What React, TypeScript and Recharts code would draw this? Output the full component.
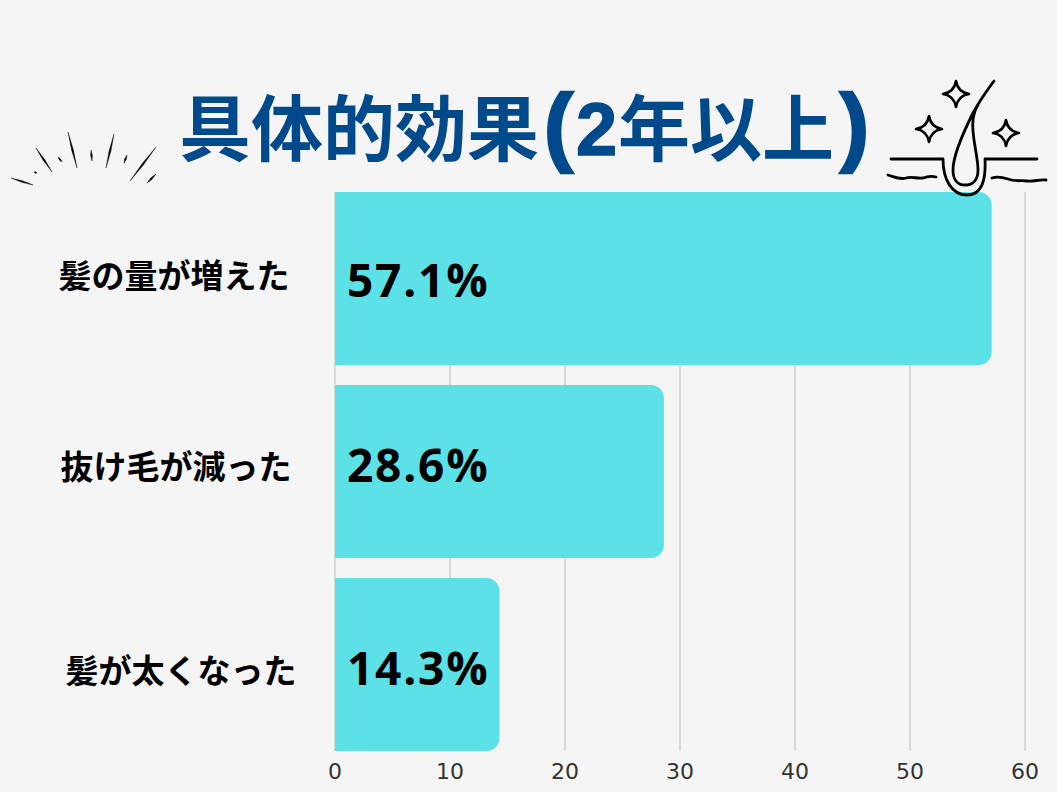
import React from "react";
import { BarChart, Bar, XAxis, YAxis, CartesianGrid, LabelList } from "recharts";

const categories = ["髪の量が増えた", "抜け毛が減った", "髪が太くなった"];
const values = [57.1, 28.6, 14.3];
const xTicks = [0, 10, 20, 30, 40, 50, 60];
const titleKanji = "具体的効果";
const titleYear = "2";
const titleRest = "年以上";
const data = categories.map((name, i) => ({ name, value: values[i] }));

const JP = "'Noto Sans CJK JP', 'Noto Sans', sans-serif";
const tickOffsets = [[-162 + 10, -5], [-160 + 10, -7], [-155 + 10, 4]];
const labelOffsets = [0, -7.5, 2.5];

const CategoryTick = (props: any) => {
  const { x, y, payload, index } = props;
  const [dx, dy] = tickOffsets[index];
  return (
    <text x={x + dx - 1} y={y + dy} dominantBaseline="central" textAnchor="middle"
      style={{ fontFamily: JP, fontSize: 33, fontWeight: 700 }} fill="#000">
      {payload.value}
    </text>
  );
};

const ValueLabel = (props: any) => {
  const { x, y, height, value, index } = props;
  return (
    <text x={x + 12} y={y + height / 2 + labelOffsets[index]} dominantBaseline="central"
      style={{ fontFamily: "'Open Sans', sans-serif", fontSize: 46, fontWeight: 700, letterSpacing: 1.8 }} fill="#000">
      {value.toFixed(1)}%
    </text>
  );
};

const bursts = [
  [11, 178, 33, 185], [36, 148, 52, 172], [34, 172, 37, 173], [58, 157, 62, 162], [68, 132, 77, 168],
  [91, 150, 92, 161], [114, 134, 106, 168], [127, 155, 124, 163], [156, 147, 130, 181], [156, 174, 147, 183],
];
const stars = [[956, 94], [929, 129], [1006, 133]];

const Taper = ({ l }: { l: number[] }) => {
  const [a, b, c, d] = l;
  const mx = (a + c) / 2, my = (b + d) / 2;
  const len = Math.hypot(c - a, d - b) || 1;
  const w = 0.9;
  const nx = (-(d - b) / len) * w, ny = ((c - a) / len) * w;
  return <path d={`M${a},${b} L${mx + nx},${my + ny} L${c},${d} L${mx - nx},${my - ny} Z`} fill="#000" stroke="#000" strokeWidth={0.4} />;
};

const Star = ({ c }: { c: number[] }) => {
  const [x, y] = c;
  const r = 13, k = 1.8;
  return (
    <path d={`M${x},${y - r} Q${x + k},${y - k} ${x + r},${y} Q${x + k},${y + k} ${x},${y + r} Q${x - k},${y + k} ${x - r},${y} Q${x - k},${y - k} ${x},${y - r} Z`}
      fill="none" stroke="#000" strokeWidth={2.6} strokeLinejoin="round" />
  );
};

const parenStyle = { fontFamily: "'Liberation Sans', sans-serif", fontSize: 87, fontWeight: 700, stroke: "#004a8c", strokeWidth: 2.5 };
const latinStyle = { fontFamily: "'Liberation Sans', sans-serif", fontSize: 74, fontWeight: 700, stroke: "#004a8c", strokeWidth: 1.5 };

export default function App() {
  return (
    <div style={{ position: "absolute", left: 0, top: 0, width: 1057, height: 792, background: "#f5f5f5", overflow: "hidden" }}>
      <BarChart width={1057} height={792} data={data} layout="vertical"
        margin={{ top: 192, right: 32, bottom: 0, left: 0 }}>
        <CartesianGrid horizontal={false} vertical stroke="#cfcfcf" strokeWidth={1.5} />
        <XAxis type="number" domain={[0, 60]} ticks={xTicks} height={41} axisLine={false} tickLine={false}
          tick={{ fontFamily: "'DejaVu Sans', sans-serif", fontSize: 22, fill: "#333" }} tickMargin={6} />
        <YAxis type="category" dataKey="name" width={335} axisLine={false} tickLine={false}
          padding={{ top: -10, bottom: -10 }} tick={<CategoryTick />} />
        <Bar dataKey="value" fill="#5ce1e6" barSize={173} radius={[0, 13, 13, 0]} isAnimationActive={false}>
          <LabelList dataKey="value" content={<ValueLabel />} />
        </Bar>
      </BarChart>
      <svg width={1057} height={792} style={{ position: "absolute", left: 0, top: 0, pointerEvents: "none" }}>
        <text y={155} fill="#004a8c" style={{ fontFamily: JP, fontSize: 72, fontWeight: 700 }}>
          <tspan x={179}>{titleKanji}</tspan>
          <tspan x={544} style={parenStyle}>(</tspan>
          <tspan x={576} style={latinStyle}>{titleYear}</tspan>
          <tspan x={618}>{titleRest}</tspan>
          <tspan x={840} style={parenStyle}>)</tspan>
        </text>
        {bursts.map((l, i) => <Taper key={i} l={l} />)}
        {stars.map((c, i) => <Star key={i} c={c} />)}
        <g fill="none" stroke="#000" strokeWidth={2.8} strokeLinecap="round" strokeLinejoin="round">
          <path d="M891,159 H943 C943,180 952,195 967,195 C982,195 986,180 985,159 H1037" />
          <path d="M994,81 C985,93 979,102 973,113 C963,133 953,155 953,170 C953,180 958,185 965,185 C973,185 978,180 978,170 C978,155 971,135 973,120 C974,112 976,108 978,105" />
          <path d="M888,175 C895,177 899,180 906,178 C912,176 917,179 923,178 C928,176 932,176 936,177" />
          <path d="M992,178 C997,176 1002,177 1008,179 C1015,182 1021,180 1027,181 C1033,182 1040,179 1046,180" />
        </g>
      </svg>
    </div>
  );
}
